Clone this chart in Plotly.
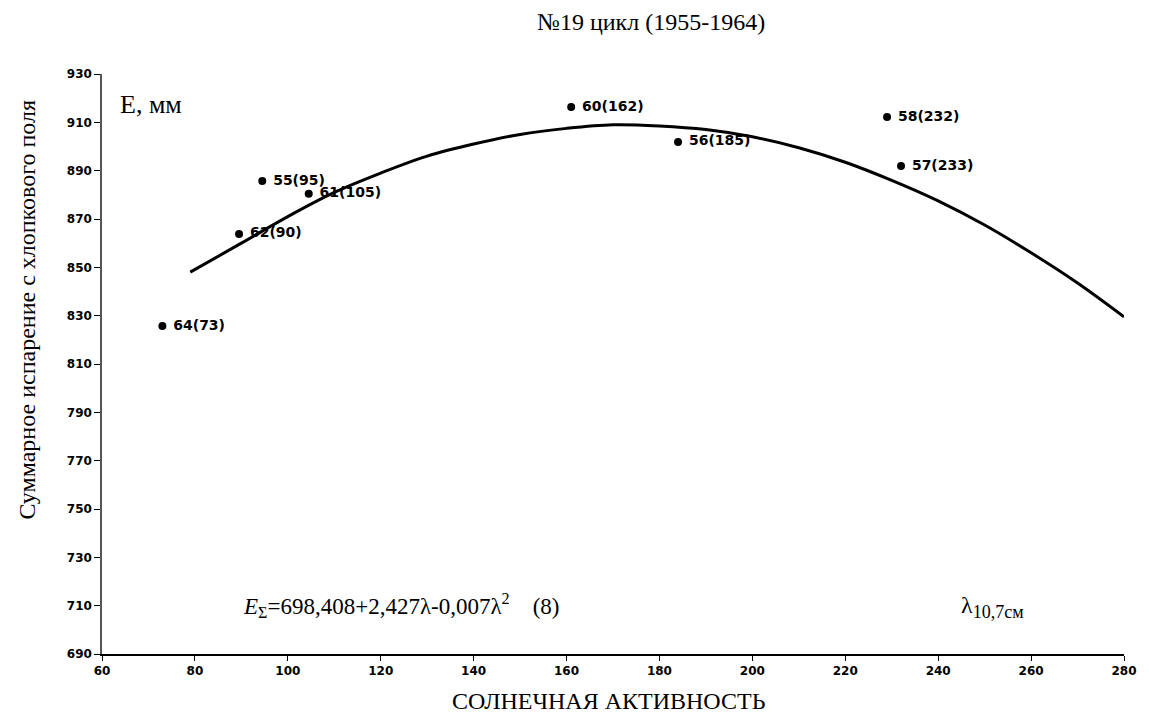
import plotly.graph_objects as go

# Observed points (solar activity λ, evaporation E)
pt_x = [73, 89.5, 94.5, 104.5, 161, 184, 229, 232]
pt_y = [825.7, 863.8, 885.7, 880.4, 916.3, 901.9, 912.2, 891.9]
pt_labels = ["64(73)", "62(90)", "55(95)", "61(105)", "60(162)", "56(185)", "58(232)", "57(233)"]

# Trend curve
curve_x = [79, 90, 100, 110, 120, 130, 140, 150, 160, 170, 180, 190, 200, 210, 220, 230, 240, 250, 260, 270, 280]
curve_y = [848, 860, 871, 881, 889, 896, 901, 905, 907.5, 909, 908.5, 907, 904, 899.5, 893.5, 886, 877.5, 867.5, 856, 843.5, 829.5]

x_ticks = [60, 80, 100, 120, 140, 160, 180, 200, 220, 240, 260, 280]
y_ticks = [690, 710, 730, 750, 770, 790, 810, 830, 850, 870, 890, 910, 930]

title_text = "№19 цикл (1955-1964)"
x_title = "СОЛНЕЧНАЯ АКТИВНОСТЬ"
y_title = "Суммарное испарение с хлопкового поля"

SERIF = "Liberation Serif, Times New Roman, serif"
SANS = "DejaVu Sans, Arial, sans-serif"

fig = go.Figure()
fig.add_trace(go.Scatter(
    x=curve_x, y=curve_y, mode="lines",
    line=dict(color="black", width=3, shape="spline"),
    hoverinfo="skip", showlegend=False,
))
fig.add_trace(go.Scatter(
    x=pt_x, y=pt_y, mode="markers+text",
    marker=dict(color="black", size=8),
    text=["\u00a0" + t for t in pt_labels],
    textposition="middle right",
    textfont=dict(family=SANS, size=14, color="black", weight="bold"),
    showlegend=False,
))

# page body has an 8px margin, so the figure is 8px smaller and shifted
fig.update_layout(
    width=1141, height=714,
    margin=dict(l=94, r=17, t=66, b=68),
    paper_bgcolor="white", plot_bgcolor="white",
    showlegend=False,
    xaxis=dict(
        range=[60, 280], tickmode="array", tickvals=x_ticks,
        ticktext=[str(v) for v in x_ticks],
        showgrid=False, zeroline=False,
        showline=True, linecolor="black", linewidth=1.5,
        ticks="outside", ticklen=5, tickcolor="black",
        tickfont=dict(family=SANS, size=12, color="black", weight="bold"),
    ),
    yaxis=dict(
        range=[690, 930], tickmode="array", tickvals=y_ticks,
        ticktext=[str(v) for v in y_ticks],
        showgrid=False, zeroline=False,
        showline=True, linecolor="#555555", linewidth=1.5,
        ticks="outside", ticklen=6, tickcolor="black",
        tickfont=dict(family=SANS, size=12, color="black", weight="bold"),
    ),
)

ann = []
ann.append(dict(text=title_text, xref="paper", yref="paper", x=(655 - 102) / 1030, y=1 + (74 - 22) / 580,
                xanchor="center", yanchor="middle", showarrow=False,
                font=dict(family=SERIF, size=24, color="black")))
ann.append(dict(text=x_title, xref="paper", yref="paper", x=(612 - 102) / 1030, y=-(701 - 654) / 580,
                xanchor="center", yanchor="middle", showarrow=False,
                font=dict(family=SERIF, size=24, color="black")))
ann.append(dict(text=y_title, xref="paper", yref="paper", x=-(102 - 26) / 1030, y=(654 - 310) / 580,
                xanchor="center", yanchor="middle", textangle=-90, showarrow=False,
                font=dict(family=SERIF, size=24, color="black")))
ann.append(dict(text="E, мм", xref="paper", yref="paper", x=(118 - 102) / 1030, y=(654 - 104) / 580,
                xanchor="left", yanchor="middle", showarrow=False,
                font=dict(family=SERIF, size=26, color="black")))
ann.append(dict(text="<i>E</i><sub>Σ</sub>=698,408+2,427λ-0,007λ<sup>2</sup>\u00a0\u00a0\u00a0\u00a0(8)",
                xref="paper", yref="paper", x=(242 - 102) / 1030, y=(654 - 605) / 580,
                xanchor="left", yanchor="middle", showarrow=False,
                font=dict(family=SERIF, size=23, color="black")))
ann.append(dict(text="λ<sub><span style='font-size:18px'>10,7см</span></sub>", xref="paper", yref="paper",
                x=(966 - 102) / 1030, y=(654 - 607) / 580,
                xanchor="left", yanchor="middle", showarrow=False,
                font=dict(family=SERIF, size=24, color="black")))
fig.update_layout(annotations=ann)

fig.write_html("out.html")
